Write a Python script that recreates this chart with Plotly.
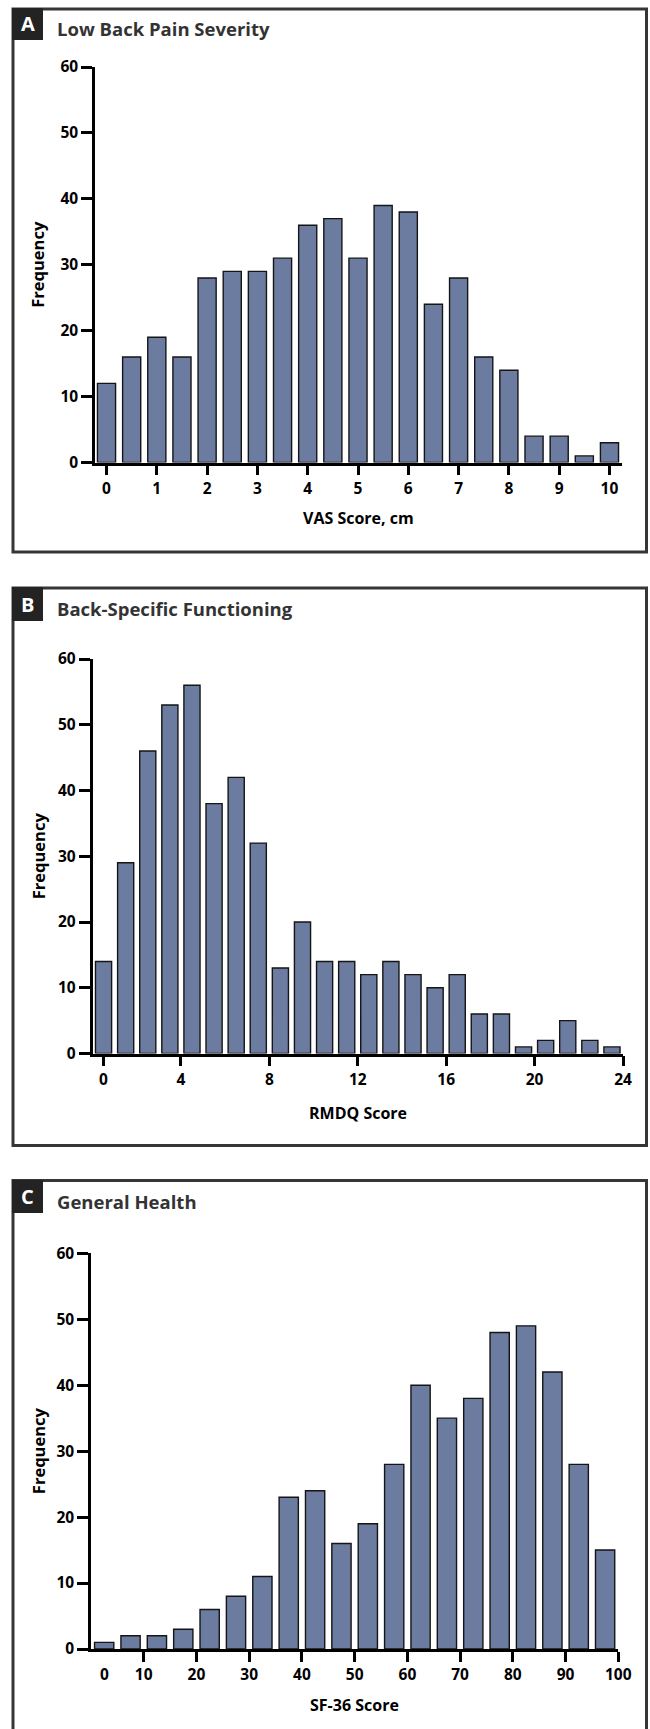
import plotly.graph_objects as go

W, H = 650, 1729

# ---------------- data ----------------
vas_bins = [0, 0.5, 1, 1.5, 2, 2.5, 3, 3.5, 4, 4.5, 5, 5.5, 6, 6.5, 7, 7.5, 8, 8.5, 9, 9.5, 10]
vas_freq = [12, 16, 19, 16, 28, 29, 29, 31, 36, 37, 31, 39, 38, 24, 28, 16, 14, 4, 4, 1, 3]
vas_tickvals = [0, 1, 2, 3, 4, 5, 6, 7, 8, 9, 10]
vas_ticktext = ["0", "1", "2", "3", "4", "5", "6", "7", "8", "9", "10"]

rmdq_bins = [0.5, 1.5, 2.5, 3.5, 4.5, 5.5, 6.5, 7.5, 8.5, 9.5, 10.5, 11.5,
             12.5, 13.5, 14.5, 15.5, 16.5, 17.5, 18.5, 19.5, 20.5, 21.5, 22.5, 23.5]
rmdq_freq = [14, 29, 46, 53, 56, 38, 42, 32, 13, 20, 14, 14, 12, 14, 12, 10, 12, 6, 6, 1, 2, 5, 2, 1]
rmdq_tickvals = [0.5, 4, 8, 12, 16, 20, 24]
rmdq_ticktext = ["0", "4", "8", "12", "16", "20", "24"]

sf36_bins = [2.5, 7.5, 12.5, 17.5, 22.5, 27.5, 32.5, 37.5, 42.5, 47.5,
             52.5, 57.5, 62.5, 67.5, 72.5, 77.5, 82.5, 87.5, 92.5, 97.5]
sf36_freq = [1, 2, 2, 3, 6, 8, 11, 23, 24, 16, 19, 28, 40, 35, 38, 48, 49, 42, 28, 15]
sf36_tickvals = [10, 20, 30, 40, 50, 60, 70, 80, 90, 100]
sf36_ticktext = ["10", "20", "30", "40", "50", "60", "70", "80", "90", "100"]
sf36_zero_label = "0"

freq_ticks = [0, 10, 20, 30, 40, 50, 60]

panel_letters = ["A", "B", "C"]
panel_titles = ["Low Back Pain Severity", "Back-Specific Functioning", "General Health"]
x_titles = ["VAS Score, cm", "RMDQ Score", "SF-36 Score"]
y_title = "Frequency"

# ---------------- styling ----------------
FONT = "Open Sans"
BAR_FILL = "#6C7BA0"
BAR_LINE = "#151515"
FRAME = "#363636"


def px(x):
    return x / W


def py(y):
    return 1 - y / H


fig = go.Figure()

fig.add_trace(go.Bar(x=vas_bins, y=vas_freq, width=0.36, xaxis="x", yaxis="y",
                     marker=dict(color=BAR_FILL, line=dict(color=BAR_LINE, width=1.4))))
fig.add_trace(go.Bar(x=rmdq_bins, y=rmdq_freq, width=0.73, xaxis="x2", yaxis="y2",
                     marker=dict(color=BAR_FILL, line=dict(color=BAR_LINE, width=1.4))))
fig.add_trace(go.Bar(x=sf36_bins, y=sf36_freq, width=3.65, xaxis="x3", yaxis="y3",
                     marker=dict(color=BAR_FILL, line=dict(color=BAR_LINE, width=1.4))))

tickfont = dict(family=FONT, size=15.5, color="black", weight="bold")

common_x = dict(showgrid=False, zeroline=False, showline=True, linecolor="black", linewidth=2.5,
                ticks="outside", ticklen=10, tickwidth=2.5, tickcolor="black", automargin=False,
                tickfont=tickfont, tickmode="array", fixedrange=True)
common_y = dict(showgrid=False, zeroline=False, showline=True, linecolor="black", linewidth=2.5,
                ticks="outside", ticklen=11, tickwidth=2.5, tickcolor="black", automargin=False,
                tickfont=tickfont, tickmode="array", tickvals=freq_ticks,
                ticktext=[str(v) for v in freq_ticks], range=[0, 60], fixedrange=True)

# panel geometry in pixels: (x_left, x_right, y_zero, y_top)
geomA = (95, 622, 462.5, 67)
geomB = (92.5, 623, 1053.5, 659)
geomC = (91, 618.3, 1649, 1253.3)

fig.update_layout(
    xaxis=dict(common_x, domain=[px(geomA[0]), px(geomA[1])], range=[-0.229, 10.249],
               tickvals=vas_tickvals, ticktext=vas_ticktext, anchor="y"),
    yaxis=dict(common_y, domain=[py(geomA[2]), py(geomA[3])], anchor="x"),
    xaxis2=dict(common_x, domain=[px(geomB[0]), px(geomB[1])], range=[0, 24],
                tickvals=rmdq_tickvals, ticktext=rmdq_ticktext, anchor="y2"),
    yaxis2=dict(common_y, domain=[py(geomB[2]), py(geomB[3])], anchor="x2"),
    xaxis3=dict(common_x, domain=[px(geomC[0]), px(geomC[1])], range=[0, 100],
                tickvals=sf36_tickvals, ticktext=sf36_ticktext, anchor="y3"),
    yaxis3=dict(common_y, domain=[py(geomC[2]), py(geomC[3])], anchor="x3"),
)

shapes = []
annotations = []

frames = [(13, 646.5, 9, 552), (13, 646.5, 588, 1145.5), (13, 646.5, 1180.5, 1740)]
label_boxes = [(12, 43, 8, 40), (12, 43, 587, 621), (12, 43, 1180, 1213)]
title_y = [29, 608.5, 1201.5]
xtitle_y = [518, 1113, 1704.5]
geoms = [geomA, geomB, geomC]

for i in range(3):
    x0, x1, y0, y1 = frames[i]
    shapes.append(dict(type="rect", xref="paper", yref="paper",
                       x0=px(x0), x1=px(x1), y0=py(y1), y1=py(y0),
                       line=dict(color=FRAME, width=3), fillcolor="rgba(0,0,0,0)", layer="below"))
    bx0, bx1, by0, by1 = label_boxes[i]
    shapes.append(dict(type="rect", xref="paper", yref="paper",
                       x0=px(bx0), x1=px(bx1), y0=py(by1), y1=py(by0),
                       line=dict(color="#2a2a2a", width=0), fillcolor="#232323", layer="above"))
    annotations.append(dict(text=panel_letters[i], xref="paper", yref="paper",
                            x=px((bx0 + bx1) / 2), y=py((by0 + by1) / 2),
                            xanchor="center", yanchor="middle", showarrow=False,
                            font=dict(family=FONT, size=20, color="white", weight="bold")))
    annotations.append(dict(text=panel_titles[i], xref="paper", yref="paper",
                            x=px(55), y=py(title_y[i]), xanchor="left", yanchor="middle",
                            showarrow=False,
                            font=dict(family=FONT, size=18.5, color="#333333", weight="bold")))
    g = geoms[i]
    annotations.append(dict(text=x_titles[i], xref="paper", yref="paper",
                            x=px((g[0] + g[1]) / 2), y=py(xtitle_y[i]),
                            xanchor="center", yanchor="middle", showarrow=False,
                            font=dict(family=FONT, size=16, color="black", weight="bold")))
    annotations.append(dict(text=y_title, xref="paper", yref="paper", textangle=-90,
                            x=px(38), y=py((g[2] + g[3]) / 2),
                            xanchor="center", yanchor="middle", showarrow=False,
                            font=dict(family=FONT, size=16.5, color="black", weight="bold")))

# "0" label of panel C sits under the first bar without a tick mark
annotations.append(dict(text=sf36_zero_label, xref="x3", yref="paper",
                        x=sf36_bins[0], y=py(1674), xanchor="center", yanchor="middle",
                        showarrow=False, font=tickfont))

fig.update_layout(shapes=shapes, annotations=annotations,
                  width=W, height=H, margin=dict(l=0, r=0, t=0, b=0, pad=0, autoexpand=False),
                  paper_bgcolor="white", plot_bgcolor="rgba(0,0,0,0)",
                  showlegend=False, barmode="overlay")

fig.write_html("out.html", config={"displayModeBar": False},
               post_script="document.body.style.margin='0';document.body.style.overflow='hidden';")
